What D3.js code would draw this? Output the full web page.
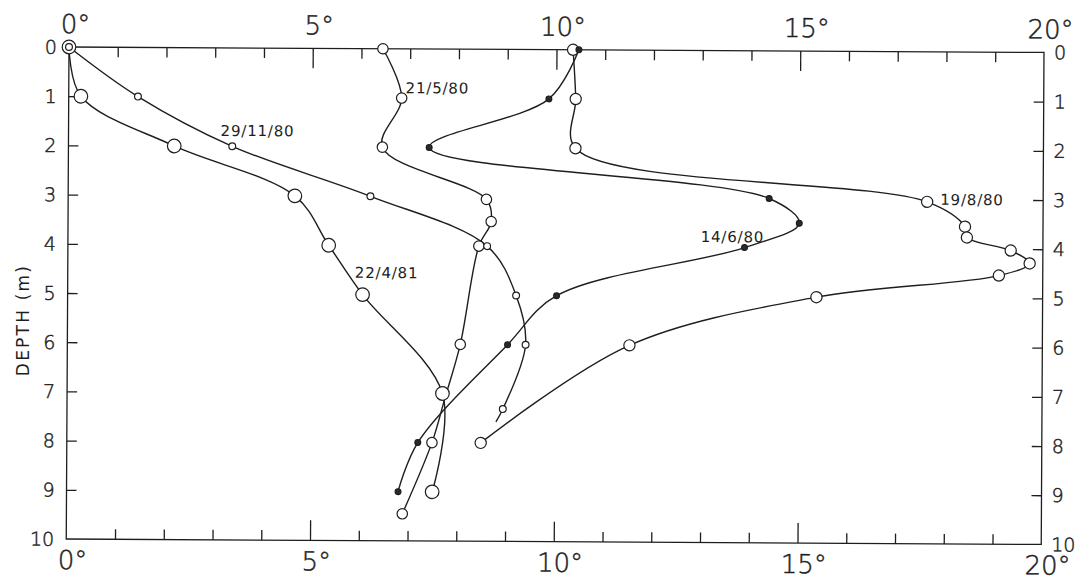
<!DOCTYPE html>
<html>
<head>
<meta charset="utf-8">
<script src="https://cdn.jsdelivr.net/npm/d3@7"></script>
<style>
  html, body { margin: 0; padding: 0; background: #fff; }
  svg { display: block; }
</style>
</head>
<body>
<svg id="chart" width="1091" height="581"></svg>
<script>
// Axis ticks
const tempLabels = [0, 5, 10, 15, 20];
const tempMinorTicks = d3.range(1, 20);
const depthLabels = d3.range(0, 11);
const depthMinorTicks = d3.range(1, 10);

// Temperature profiles: depth (m) and temperature (°C) per station visit
const names = ["22/4/81", "21/5/80", "19/8/80", "29/11/80", "14/6/80"];

const depth_220481 = [0, 1, 2, 3, 4, 5, 7, 9];
const temp_220481  = [0, 0.25, 2.17, 4.65, 5.35, 6.05, 7.7, 7.5];

const depth_210580 = [0, 1, 2, 3.05, 3.5, 4, 6, 7.1, 8, 9.45];
const temp_210580  = [6.44, 6.83, 6.44, 8.58, 8.68, 8.43, 8.06, 7.75, 7.49, 6.89];
const unmarked_210580 = [7];

const depth_190880 = [0, 1, 2, 3.05, 3.55, 3.77, 4.03, 4.29, 4.54, 5, 6, 8];
const temp_190880  = [10.34, 10.4, 10.4, 17.62, 18.4, 18.44, 19.34, 19.73, 19.1, 15.36, 11.53, 8.49];

const depth_291180 = [0, 1, 2, 3, 4, 5, 6, 7.31, 7.57];
const temp_291180  = [0, 1.42, 3.36, 6.2, 8.6, 9.2, 9.4, 8.94, 8.8];
const unmarked_291180 = [8];

const depth_140680 = [0, 1, 2, 3, 3.5, 4, 5, 6, 8, 9];
const temp_140680  = [10.46, 9.85, 7.4, 14.38, 15.0, 13.88, 10.03, 9.03, 7.2, 6.8];

// Where each date label sits, in (°C, m)
const labelTemp  = [5.89, 6.91, 17.89, 3.12, 12.98];
const labelDepth = [4.66, 0.9, 3.11, 1.79, 3.89];

const profiles = [
  { depth: depth_220481, temp: temp_220481, skip: [] },
  { depth: depth_210580, temp: temp_210580, skip: unmarked_210580 },
  { depth: depth_190880, temp: temp_190880, skip: [] },
  { depth: depth_291180, temp: temp_291180, skip: unmarked_291180 },
  { depth: depth_140680, temp: temp_140680, skip: [] }
].map((p, i) => ({
  name: names[i],
  points: p.depth.map((d, j) => ({ d, t: p.temp[j], mark: !p.skip.includes(j) })),
  label: [labelTemp[i], labelDepth[i]]
}));

// Marker look per profile
const markerStyle = {
  "22/4/81":  { r: 6.8, fill: "#fff" },
  "21/5/80":  { r: 5.2, fill: "#fff" },
  "19/8/80":  { r: 5.6, fill: "#fff" },
  "29/11/80": { r: 3.4, fill: "#fff" },
  "14/6/80":  { r: 2.9, fill: "#2a2a2a" }
};

const ink = "#1e1e1e";
const plotLeft = 69, plotTop = 47, plotRight = 1044, plotBottom = 539;

const svg = d3.select("#chart");
const g = svg.append("g").attr("transform", `rotate(0.32, ${plotLeft}, ${plotTop})`);

const x = d3.scaleLinear().domain([0, 20]).range([plotLeft, plotRight]);
const y = d3.scaleLinear().domain([0, 10]).range([plotTop, plotBottom]);

// Frame
g.append("rect")
  .attr("x", plotLeft).attr("y", plotTop)
  .attr("width", plotRight - plotLeft).attr("height", plotBottom - plotTop)
  .attr("fill", "none").attr("stroke", ink).attr("stroke-width", 1.3);

const tickLen = v => (v % 5 === 0 ? 20 : 10);

// Top and bottom temperature ticks, pointing into the plot
const topAxis = g.append("g").attr("transform", `translate(0,${plotTop})`)
  .call(d3.axisTop(x).tickValues(tempMinorTicks).tickSize(0).tickFormat(""));
topAxis.select(".domain").remove();
topAxis.selectAll(".tick line").attr("y2", d => tickLen(d)).attr("stroke", ink).attr("stroke-width", 1.3);

const bottomAxis = g.append("g").attr("transform", `translate(0,${plotBottom})`)
  .call(d3.axisBottom(x).tickValues(tempMinorTicks).tickSize(0).tickFormat(""));
bottomAxis.select(".domain").remove();
bottomAxis.selectAll(".tick line").attr("y2", d => -tickLen(d)).attr("stroke", ink).attr("stroke-width", 1.3);

// Depth ticks on both sides
const leftAxis = g.append("g").attr("transform", `translate(${plotLeft},0)`)
  .call(d3.axisLeft(y).tickValues(depthMinorTicks).tickSize(-10).tickFormat(""));
leftAxis.select(".domain").remove();
leftAxis.selectAll(".tick line").attr("stroke", ink).attr("stroke-width", 1.3);

const rightAxis = g.append("g").attr("transform", `translate(${plotRight},0)`)
  .call(d3.axisRight(y).tickValues(depthMinorTicks).tickSize(-10).tickFormat(""));
rightAxis.select(".domain").remove();
rightAxis.selectAll(".tick line").attr("stroke", ink).attr("stroke-width", 1.3);

// Thin lettering for the scale numbers
function thinText(sel, size) {
  return sel
    .attr("font-family", "'DejaVu Sans', sans-serif")
    .attr("font-weight", 200)
    .attr("font-size", size)
    .attr("fill", ink)
    .attr("stroke", ink)
    .attr("stroke-width", 0.45);
}

// Temperature labels: number centred on the tick, degree sign trailing
function tempLabelRow(yPos) {
  const row = g.append("g");
  tempLabels.forEach(v => {
    const t = thinText(row.append("text").attr("y", yPos), 26).text(v);
    const w = t.node().getComputedTextLength();
    t.attr("x", x(v) - w / 2);
    t.append("tspan").text("°");
  });
}
tempLabelRow(plotTop - 14);
tempLabelRow(plotBottom + 30);

// Depth labels
function depthLabelCol(xPos, anchor) {
  thinText(g.append("g").selectAll("text").data(depthLabels).join("text"), 19)
    .attr("x", xPos)
    .attr("y", d => y(d))
    .attr("dy", "0.36em")
    .attr("text-anchor", anchor)
    .text(d => d);
}
depthLabelCol(plotLeft - 12, "end");
depthLabelCol(plotRight + 10, "start");

// Axis title
svg.append("text")
  .attr("transform", "translate(29,320) rotate(-90)")
  .attr("text-anchor", "middle")
  .attr("font-family", "'DejaVu Sans', sans-serif")
  .attr("font-size", 17)
  .attr("letter-spacing", 2.2)
  .attr("fill", ink)
  .text("DEPTH (m)");

// Profile curves
const line = d3.line()
  .x(p => x(p.t))
  .y(p => y(p.d))
  .curve(d3.curveCatmullRom.alpha(0.5));

g.append("g").selectAll("path").data(profiles).join("path")
  .attr("d", p => line(p.points))
  .attr("fill", "none")
  .attr("stroke", ink)
  .attr("stroke-width", 1.4);

// Markers
profiles.forEach(p => {
  const s = markerStyle[p.name];
  g.append("g").selectAll("circle").data(p.points.filter(q => q.mark)).join("circle")
    .attr("cx", q => x(q.t))
    .attr("cy", q => y(q.d))
    .attr("r", s.r)
    .attr("fill", s.fill)
    .attr("stroke", ink)
    .attr("stroke-width", 1.2);
});

// Date labels
g.append("g").selectAll("text").data(profiles).join("text")
  .attr("x", p => x(p.label[0]))
  .attr("y", p => y(p.label[1]))
  .attr("font-family", "'DejaVu Sans', sans-serif")
  .attr("font-size", 15)
  .attr("letter-spacing", 0.8)
  .attr("fill", ink)
  .text(p => p.name);
</script>
</body>
</html>
